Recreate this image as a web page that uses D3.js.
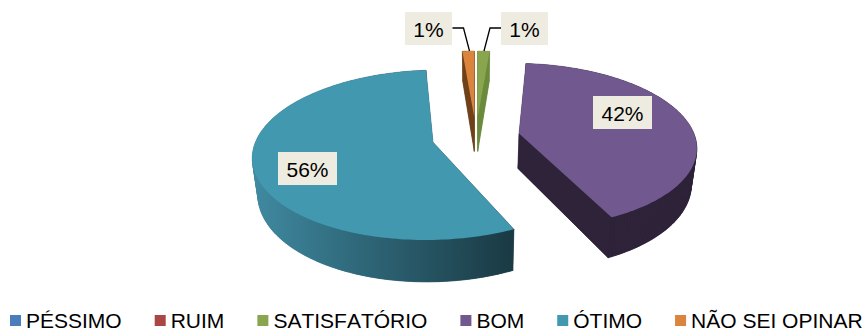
<!DOCTYPE html>
<html><head><meta charset="utf-8">
<style>html,body{margin:0;padding:0;background:#fff}svg{display:block}text{font-family:"Liberation Sans",Arial,sans-serif;fill:#000;font-kerning:none}</style>
<script src="https://cdn.jsdelivr.net/npm/d3@7"></script></head><body>
<svg id="c" width="867" height="329"></svg>
<script>
const categories = ["PÉSSIMO","RUIM","SATISFATÓRIO","BOM","ÓTIMO","NÃO SEI OPINAR"];
const values = [0,0,1.3,41.7,55.7,1.3];
const labels = ["0%","0%","1%","42%","56%","1%"];
const topColors = ["#4a7ebb","#aa4643","#89a54e","#71588f","#4198af","#db843d"];
const wallColors = ["#2c4d75","#632523","#6b8a3c","#2e2339","url(#tealWall)","#6e4119"];

const svg = d3.select("#c");
const W=176, H=81.5, P=0.148, EXP=0.25, DEPTH=35.3, SHRINK=0.975, CX=476, CY=137;
const xS = d3.scaleLinear().domain([0,1]).range([CX,CX+W]);
const yS = d3.scaleLinear().domain([0,1]).range([CY,CY-H]);
const pie = d3.pie().value(d=>d).sort(null)(values);

function project(X,Y,bottom){
  const s=1/(1+P*Y);
  const sx=xS(X*s), sy=yS(Y*s);
  return bottom ? [CX+(sx-CX)*SHRINK, sy+DEPTH*s] : [sx,sy];
}
const line = d3.line().curve(d3.curveLinearClosed);
const defs = svg.append("defs");
const g = defs.append("linearGradient").attr("id","tealWall").attr("gradientUnits","userSpaceOnUse")
  .attr("x1",258).attr("x2",512).attr("y1",0).attr("y2",0);
g.append("stop").attr("offset",0).attr("stop-color","#3f889f");
g.append("stop").attr("offset",0.35).attr("stop-color","#316b7e");
g.append("stop").attr("offset",1).attr("stop-color","#1a3a44");

function geometry(a){
  const mid=(a.startAngle+a.endAngle)/2;
  const ex=EXP*Math.sin(mid), ey=EXP*Math.cos(mid);
  const n=Math.max(2,Math.ceil((a.endAngle-a.startAngle)/0.02));
  const thetas=d3.range(n+1).map(i=>a.startAngle+(a.endAngle-a.startAngle)*i/n);
  const rim=thetas.map(t=>[ex+Math.sin(t),ey+Math.cos(t)]);
  return {apex:[ex,ey],rim};
}
// draw back to front: the wedges that sit behind come first
const order=[2,5,3,4];
order.forEach(i=>{
  const a=pie[i]; const {apex,rim}=geometry(a);
  const slice=svg.append("g").attr("class","slice");
  const wall=wallColors[i];
  const outline=[apex,...rim];
  const quad=(p,q)=>[project(p[0],p[1],false),project(q[0],q[1],false),project(q[0],q[1],true),project(p[0],p[1],true)];
  const bottomPts=outline.map(p=>project(p[0],p[1],true));
  slice.append("path").attr("d",line(bottomPts)).attr("fill",wall).attr("stroke",wall).attr("stroke-width",0.4);
  const walls=[];
  for(let k=0;k<outline.length;k++) walls.push(quad(outline[k],outline[(k+1)%outline.length]));
  slice.selectAll("path.w").data(walls).join("path").attr("class","w")
    .attr("d",d=>line(d)).attr("fill",wall).attr("stroke",wall).attr("stroke-width",0.4);
  slice.append("path").attr("d",line(outline.map(p=>project(p[0],p[1],false)))).attr("fill",topColors[i]);
});

// leader lines
const leaders=[[[452.5,28],[463.5,28],[469.5,51]],[[501,28],[490,28],[484,51]]];
svg.selectAll("path.leader").data(leaders).join("path").attr("class","leader")
  .attr("d",d3.line()).attr("fill","none").attr("stroke","#000").attr("stroke-width",1.3);

// data labels
const labelBoxes=[{i:5,x:405,y:12,w:47},{i:2,x:501,y:12,w:47},{i:3,x:593,y:96,w:59},{i:4,x:278,y:152,w:59}];
const lab=svg.selectAll("g.lab").data(labelBoxes).join("g").attr("class","lab");
lab.append("rect").attr("x",d=>d.x).attr("y",d=>d.y).attr("width",d=>d.w).attr("height",33).attr("fill","#eeece1");
lab.append("text").attr("x",d=>d.x+d.w/2).attr("y",d=>d.y+24.5).attr("text-anchor","middle")
  .attr("font-size",21).text(d=>labels[d.i]);

// legend
let lx=10;
categories.forEach((c,i)=>{
  svg.append("rect").attr("x",lx).attr("y",315).attr("width",11).attr("height",11).attr("fill",topColors[i]);
  const t=svg.append("text").attr("x",lx+16).attr("y",328).attr("font-size",21).text(c);
  lx+=16+t.node().getComputedTextLength()+33;
});
</script></body></html>
